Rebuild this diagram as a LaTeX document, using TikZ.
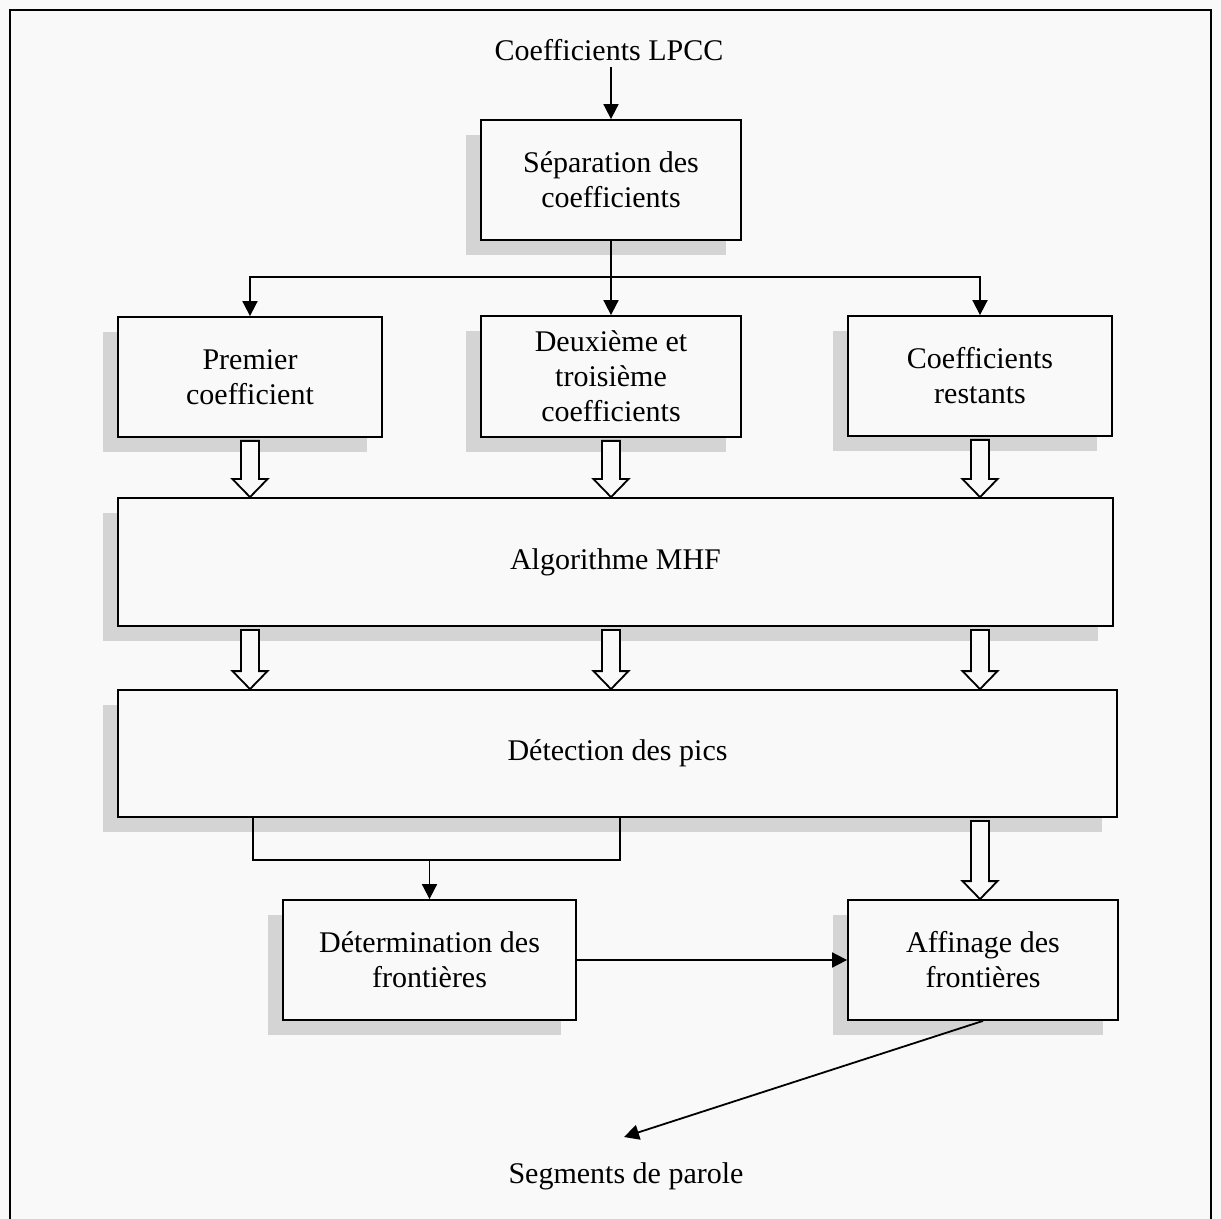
\documentclass[tikz,border=0pt]{standalone}
\usepackage{fontspec}
\setmainfont{Liberation Serif}
\usepackage{tikz}
\usetikzlibrary{arrows.meta,calc,shadows}
\definecolor{paper}{RGB}{249,249,249}
\definecolor{shadowGray}{RGB}{212,212,212}

\tikzset{
  box/.style={draw, fill=paper, line width=0.9pt, align=center,
    font=\fontsize{15pt}{17.5pt}\selectfont, inner sep=2pt,
    drop shadow={shadow xshift=-7.5pt, shadow yshift=-7.5pt, fill=shadowGray, opacity=1}},
  lbl/.style={font=\fontsize{15pt}{17.5pt}\selectfont, inner sep=0pt},
  arr/.style={line width=0.9pt, -{Triangle[length=7.5pt,width=7.5pt]}},
  fat/.style={line width=0.9pt, fill=paper, line join=miter}
}

% hollow block arrow from #1 down to #2
\newcommand{\fatarrow}[2]{%
  \draw[fat] let \p1=(#1), \p2=(#2) in
    (\x1-4.5pt,\y1) -- (\x1+4.5pt,\y1) -- (\x1+4.5pt,\y2+9pt)
    -- (\x1+8.75pt,\y2+9pt) -- (\x1,\y2) -- (\x1-8.75pt,\y2+9pt)
    -- (\x1-4.5pt,\y2+9pt) -- cycle;}

\begin{document}
\begin{tikzpicture}[x=0.5pt,y=-0.5pt]
  \useasboundingbox[fill=paper] (0,0) rectangle (1221,1219);
  \draw[line width=0.9pt] (10,1219) -- (10,10) -- (1211,10) -- (1211,1219);

  \node[lbl] (lpcc) at (609,50) {Coefficients LPCC};
  \node[box, minimum width=130pt, minimum height=60pt] (sep) at (611,180)
    {Séparation des\\coefficients};

  \node[box, minimum width=132pt, minimum height=60pt] (prem) at (250,377)
    {Premier\\coefficient};
  \node[box, minimum width=130pt, minimum height=60.5pt] (deux) at (611,376.5)
    {Deuxième et\\troisième\\coefficients};
  \node[box, minimum width=132pt, minimum height=60pt] (rest) at (980,376)
    {Coefficients\\restants};

  \node[box, minimum width=497.5pt, minimum height=64pt] (mhf) at (615.5,562)
    {Algorithme MHF};
  \node[box, minimum width=499.5pt, minimum height=63.5pt] (pics) at (617.5,753.5)
    {Détection des pics};

  \node[box, minimum width=146.5pt, minimum height=60pt] (determ) at (429.5,960)
    {Détermination des\\frontières};
  \node[box, minimum width=135pt, minimum height=60pt] (affin) at (983,960)
    {Affinage des\\frontières};

  \node[lbl] (seg) at (626,1176) {Segments de parole};

  % thin connectors
  \coordinate (fork) at (611,277);
  \draw[arr] ([yshift=-3pt]lpcc.south -| sep.north) -- (sep.north);
  \draw[arr] (sep.south) -- (deux.north);
  \draw[arr] (fork) -| (prem.north);
  \draw[arr] (fork) -| (rest.north);

  \coordinate (brL) at (253,860);
  \coordinate (brR) at (620,860);
  \draw[line width=0.9pt] (pics.south -| brL) -- (brL) -- (brR) -- (pics.south -| brR);
  \draw[arr] (brL -| determ.north) -- (determ.north);
  \draw[arr] (determ.east) -- (affin.west);

  \coordinate (segtip) at (624,1137);
  \draw[arr] (affin.south) -- (segtip);

  % block arrows
  \foreach \b in {prem,deux,rest}{
    \fatarrow{[yshift=-1.5pt]\b.south}{\b.south |- mhf.north}
    \fatarrow{[yshift=-1.5pt]\b.south |- mhf.south}{\b.south |- pics.north}
  }
  \fatarrow{[yshift=-1.5pt]rest.south |- pics.south}{rest.south |- affin.north}
\end{tikzpicture}
\end{document}
